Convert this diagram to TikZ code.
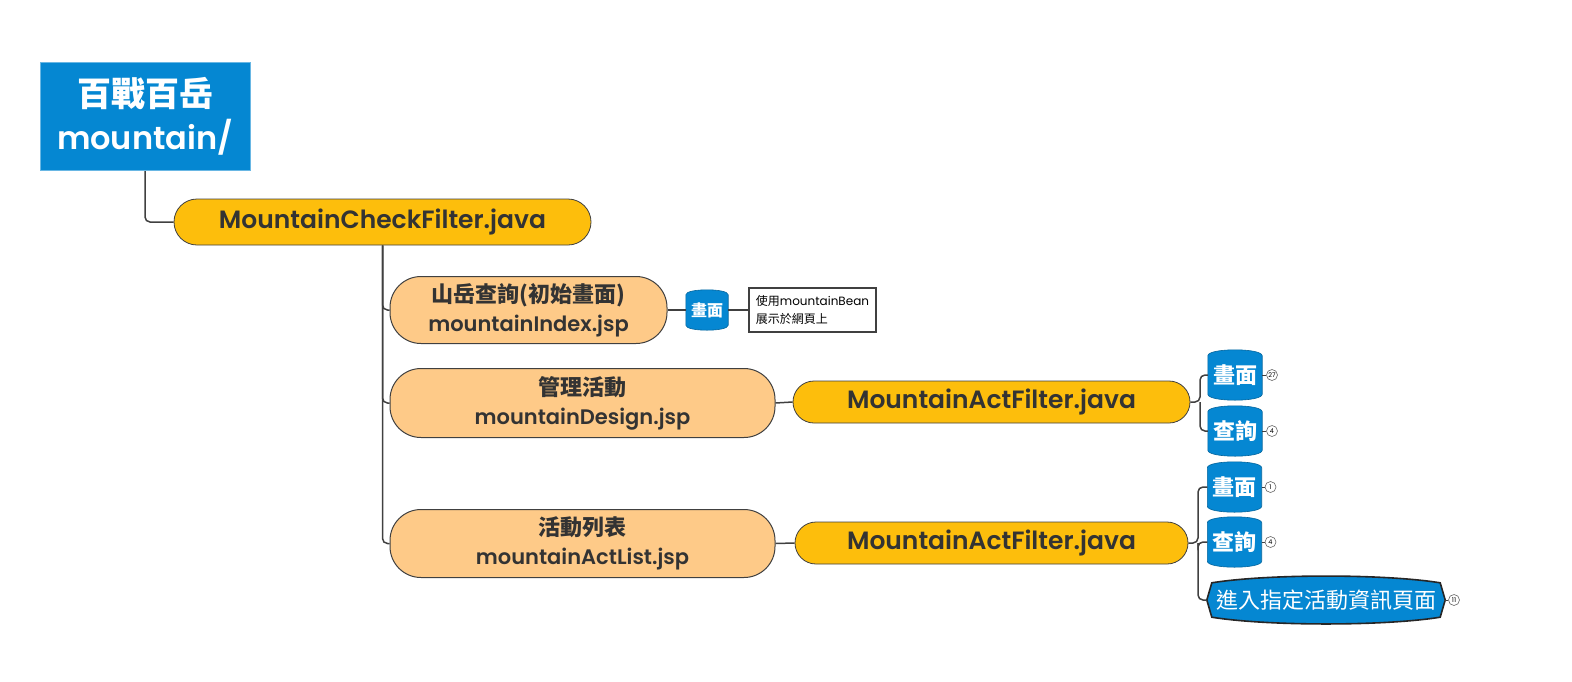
\documentclass[tikz,border=0pt]{standalone}
\usepackage{fontspec}
\setmainfont{Noto Sans CJK TC}
\newfontfamily\lat{Poppins}[BoldFont={* SemiBold}]
\usetikzlibrary{positioning, backgrounds}
\definecolor{mblue}{HTML}{0587D2}
\definecolor{myellow}{HTML}{FDBE0C}
\definecolor{morange}{HTML}{FECA88}
\definecolor{mtext}{HTML}{333333}
\definecolor{mline}{HTML}{404040}
\newcommand{\fs}[2]{\fontsize{#1}{#2}\selectfont}
% barrel outline behind a node: name, bulge
\newcommand{\barrelbg}[2]{%
  \filldraw[mblue, draw=mblue!75!black, line width=0.6pt]
    ([yshift=-#2]#1.north west) .. controls ([yshift=#2/3]#1.north west) and ([yshift=#2/3]#1.north east) .. ([yshift=-#2]#1.north east)
    -- ([yshift=#2]#1.south east) .. controls ([yshift=-#2/3]#1.south east) and ([yshift=-#2/3]#1.south west) .. ([yshift=#2]#1.south west)
    -- cycle;}
\begin{document}
\begin{tikzpicture}[x=1pt, y=-1pt,
  link/.style={draw=mline, line width=1.5pt, rounded corners=5pt},
  thinlink/.style={draw=mline, line width=0.8pt},
  rootbox/.style={fill=mblue, draw=mblue!60!white, line width=0.8pt, text=white, font=\bfseries\fs{34}{43}, align=center, minimum width=210, minimum height=108},
  filterpill/.style={fill=myellow, draw=mline, line width=0.8pt, text=mtext, font=\lat\bfseries\fs{25}{28}, rounded corners=21pt, minimum height=42},
  pagebox/.style={fill=morange, draw=mline, line width=1pt, text=mtext, font=\bfseries\fs{22}{29}, align=center, rounded corners=31pt},
  viewbarrel/.style={text=white, font=\bfseries\fs{22}{24}, inner sep=0pt, minimum width=54, minimum height=50},
  notebox/.style={fill=white, draw=mline, line width=2pt, font=\fs{12}{18}, align=left, minimum width=127, minimum height=44, inner sep=4pt},
  badge/.style={circle, draw=mline!80, fill=white, line width=0.6pt, inner sep=0pt, minimum size=11, font=\lat\fs{6.5}{7}}]

\useasboundingbox (0,0) rectangle (1572,681);

\node[rootbox] (root) at (145,116) {百戰百岳\\{\lat\bfseries\fs{32}{43}mountain/}};
\node[filterpill, minimum width=417, minimum height=46, rounded corners=23pt] (check) at (382.5,222) {MountainCheckFilter.java};

\node[pagebox, minimum width=277, minimum height=67] (index) at (528.5,310) {山岳查詢(初始畫面)\\{\lat\bfseries\fs{21}{29}mountainIndex.jsp}};
\node[viewbarrel, minimum width=42, minimum height=40, font=\bfseries\fs{16}{18}] (indexview) at (707,310) {畫面};
\node[notebox, anchor=west] (note) at (748,310) {使用{\lat mountainBean}\\展示於網頁上};

\node[pagebox, minimum width=385, minimum height=69] (design) at (582.5,403) {管理活動\\{\lat\bfseries\fs{21}{29}mountainDesign.jsp}};
\node[filterpill, minimum width=397] (actfilterA) at (991.5,402) {MountainActFilter.java};
\node[viewbarrel] (designview) at (1235,375) {畫面};
\node[viewbarrel] (designquery) at (1235,431) {查詢};
\node[badge, right=4pt of designview] (badgeA1) {27};
\node[badge, right=4pt of designquery] (badgeA2) {4};

\node[pagebox, minimum width=385, minimum height=68] (actlist) at (582.5,543.5) {活動列表\\{\lat\bfseries\fs{21}{29}mountainActList.jsp}};
\node[filterpill, minimum width=393] (actfilterB) at (991.5,543) {MountainActFilter.java};
\node[viewbarrel] (listview) at (1234.5,487) {畫面};
\node[viewbarrel] (listquery) at (1234.5,542) {查詢};
\node[viewbarrel, minimum width=236, minimum height=44, font=\fs{22}{24}] (listenter) at (1326,600) {進入指定活動資訊頁面};
\node[badge, right=3pt of listview] (badgeB1) {1};
\node[badge, right=3pt of listquery] (badgeB2) {4};
\node[badge, right=4pt of listenter] (badgeB3) {11};

\coordinate (forkA) at (1200,402);
\coordinate (forkB) at (1198,543);

\begin{scope}[on background layer]
  \barrelbg{indexview}{5pt}
  \barrelbg{designview}{6pt}
  \barrelbg{designquery}{6pt}
  \barrelbg{listview}{6pt}
  \barrelbg{listquery}{6pt}
  \filldraw[mblue, draw=black!85, line width=1.6pt]
    ([yshift=-5pt, xshift=4pt]listenter.north west) .. controls ([yshift=4pt, xshift=60pt]listenter.north west) and ([yshift=4pt, xshift=-60pt]listenter.north east) .. ([yshift=-5pt, xshift=-4pt]listenter.north east)
    -- ([xshift=1pt]listenter.east) -- ([yshift=5pt, xshift=-4pt]listenter.south east)
    .. controls ([yshift=-4pt, xshift=-60pt]listenter.south east) and ([yshift=-4pt, xshift=60pt]listenter.south west) .. ([yshift=5pt, xshift=4pt]listenter.south west)
    -- ([xshift=-1pt]listenter.west) -- cycle;

  \draw[link] (root.south) |- (check.west);
  \draw[link] (check.south) |- (index.west);
  \draw[link] (check.south) |- (design.west);
  \draw[link] (check.south) |- (actlist.west);
  \draw[link] (index.east) -- (indexview.west);
  \draw[link] (indexview.east) -- (note.west);
  \draw[link] (design.east) -- (actfilterA.west);
  \draw[link] (actlist.east) -- (actfilterB.west);
  \draw[link] (actfilterA.east) -- (forkA) |- (designview.west);
  \draw[link] (forkA) |- (designquery.west);
  \draw[link] (actfilterB.east) -- (forkB) |- (listview.west);
  \draw[link] (forkB) |- (listquery.west);
  \draw[link] (forkB) |- ([xshift=-1pt]listenter.west);
  \draw[thinlink] (designview.east) -- (badgeA1);
  \draw[thinlink] (designquery.east) -- (badgeA2);
  \draw[thinlink] (listview.east) -- (badgeB1);
  \draw[thinlink] (listquery.east) -- (badgeB2);
  \draw[thinlink] (listenter.east) -- (badgeB3);
\end{scope}

\end{tikzpicture}
\end{document}
